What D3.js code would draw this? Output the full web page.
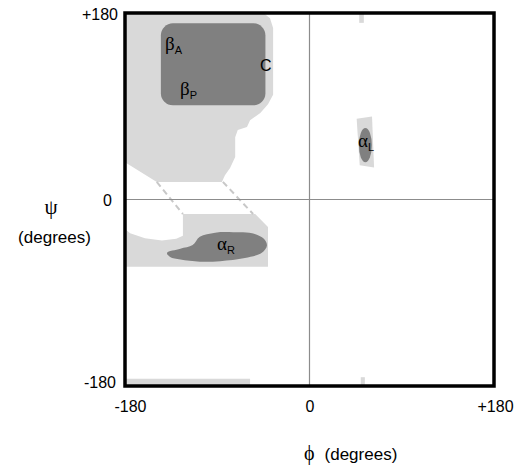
<!DOCTYPE html>
<html>
<head>
  <meta charset="utf-8">
  <title>Ramachandran regions</title>
  <style>
    body { margin: 0; background: #fff; }
    text { font-family: "Liberation Sans", Arial, sans-serif; fill: #000; }
    .greek { font-family: "Liberation Serif", "DejaVu Serif", serif; }
    .axis text { font-size: 16px; }
  </style>
  <script src="https://d3js.org/d3.v7.min.js"></script>
</head>
<body>
  <div id="chart"></div>
  <script>
    // regions in (phi, psi) degrees
    var betaAllowed = [[-180, 180], [-45, 180], [-38.5, 175], [-35.5, 165.5], [-35.5, 101], [-40.5, 92],
      [-48, 83.5], [-58, 76.5], [-61, 70], [-70, 67], [-72.5, 60], [-72.5, 41], [-77.5, 30.5],
      [-82.5, 23.5], [-85.5, 17], [-149, 17], [-180, 36]];
    var betaCore = [[-145, 170], [-43, 91]];
    var alphaRAllowed = [[-123.5, -14], [-53, -14], [-40.5, -26.5], [-40.5, -65], [-180, -65],
      [-180, -28.5], [-175, -32.5], [-160.5, -37.5], [-144, -39.5], [-130, -38], [-123.5, -35]];
    var alphaRCore = [[-139, -51.5], [-126, -47.5], [-114, -44], [-107, -36], [-92, -32], [-74.5, -31.5],
      [-56, -32.5], [-44.5, -38], [-41.5, -44.5], [-46.5, -51.5], [-63, -56.5], [-87, -59.5],
      [-107, -60], [-126, -58], [-136, -55.5]];
    var alphaLAllowed = [[46, 78], [61, 80], [63, 31], [49, 33]];
    var alphaLCore = { phi: 54.5, psi: 52.5, dphi: 6.3, dpsi: 16.5 };
    var wrapBoxes = [[[-180, -173], [-58, -180]], [[48.5, 180], [53, 170.5]], [[50, -171.5], [54, -180]]];
    var bridges = [[[-149, 17], [-123.5, -14]], [[-84.5, 17], [-55, -14]]];
    var tickValues = [-180, 0, 180];
    var tickLabels = ["-180", "0", "+180"];
    var regionLabels = [
      { g: "\u03b2", sub: "A", phi: -141, psi: 144 },
      { g: "\u03b2", sub: "P", phi: -126.3, psi: 101 },
      { g: "\u03b1", sub: "R", phi: -90.2, psi: -48.8 },
      { g: "\u03b1", sub: "L", phi: 47.3, psi: 50.7 }
    ];
    var cLabel = { text: "C", phi: -48.3, psi: 124 };

    var light = "#d9d9d9", dark = "#808080";
    var plotLeft = 125, plotRight = 494, plotTop = 13, plotBottom = 386;

    var svg = d3.select("#chart").append("svg")
      .attr("width", 517)
      .attr("height", 469);

    var x = d3.scaleLinear().domain([-180, 180]).range([plotLeft, plotRight]);
    var y = d3.scaleLinear().domain([-180, 180]).range([plotBottom, plotTop]);

    var line = d3.line()
      .x(function(d) { return x(d[0]); })
      .y(function(d) { return y(d[1]); });

    // light (allowed) regions
    svg.append("path").attr("d", line(betaAllowed) + "Z").attr("fill", light);
    svg.append("path").attr("d", line(alphaRAllowed) + "Z").attr("fill", light);
    svg.append("path").attr("d", line(alphaLAllowed) + "Z").attr("fill", light);
    svg.selectAll(".wrap").data(wrapBoxes).enter().append("rect")
      .attr("x", function(d) { return x(d[0][0]); })
      .attr("y", function(d) { return y(d[0][1]); })
      .attr("width", function(d) { return x(d[1][0]) - x(d[0][0]); })
      .attr("height", function(d) { return y(d[1][1]) - y(d[0][1]); })
      .attr("fill", light);

    // dashed bridges
    svg.selectAll(".bridge").data(bridges).enter().append("path")
      .attr("d", line)
      .attr("fill", "none")
      .attr("stroke", "#c8c8c8")
      .attr("stroke-width", 2)
      .attr("stroke-dasharray", "6,4");

    // core regions
    svg.append("rect")
      .attr("x", x(betaCore[0][0]))
      .attr("y", y(betaCore[0][1]))
      .attr("width", x(betaCore[1][0]) - x(betaCore[0][0]))
      .attr("height", y(betaCore[1][1]) - y(betaCore[0][1]))
      .attr("rx", 12)
      .attr("fill", dark);

    svg.append("path")
      .attr("d", d3.line().x(function(d) { return x(d[0]); }).y(function(d) { return y(d[1]); })
        .curve(d3.curveCatmullRomClosed)(alphaRCore))
      .attr("fill", dark);

    svg.append("ellipse")
      .attr("cx", x(alphaLCore.phi))
      .attr("cy", y(alphaLCore.psi))
      .attr("rx", x(alphaLCore.dphi) - x(0))
      .attr("ry", y(0) - y(alphaLCore.dpsi))
      .attr("fill", dark);

    // zero lines
    svg.append("line")
      .attr("x1", x(0)).attr("x2", x(0)).attr("y1", y(-180)).attr("y2", y(180))
      .attr("stroke", "#8c8c8c").attr("stroke-width", 1.2);
    svg.append("line")
      .attr("x1", x(-180)).attr("x2", x(180)).attr("y1", y(0)).attr("y2", y(0))
      .attr("stroke", "#8c8c8c").attr("stroke-width", 1.2);

    // frame
    svg.append("rect")
      .attr("x", plotLeft).attr("y", plotTop)
      .attr("width", plotRight - plotLeft).attr("height", plotBottom - plotTop)
      .attr("fill", "none").attr("stroke", "#000").attr("stroke-width", 3.5);

    // axes
    var xAxis = d3.axisBottom(x).tickValues(tickValues).tickSize(0).tickPadding(15)
      .tickFormat(function(d, i) { return tickLabels[i]; });
    var gx = svg.append("g").attr("class", "axis")
      .attr("transform", "translate(0," + plotBottom + ")")
      .call(xAxis);
    gx.select(".domain").remove();
    gx.selectAll("text").attr("dx", function(d) { return d === -180 ? 5 : d === 180 ? 1 : 0; });

    var yAxis = d3.axisLeft(y).tickValues(tickValues).tickSize(0).tickPadding(9)
      .tickFormat(function(d, i) { return tickLabels[i]; });
    var gy = svg.append("g").attr("class", "axis")
      .attr("transform", "translate(" + plotLeft + ",0)")
      .call(yAxis);
    gy.select(".domain").remove();
    gy.selectAll("text").attr("dx", function(d) { return d === 0 ? -4 : d === 180 ? 2 : 0; })
      .attr("dy", function(d) { return d === -180 ? "0.1em" : "0.4em"; });

    // axis titles
    svg.append("text").attr("class", "greek")
      .attr("x", 51).attr("y", 214)
      .attr("text-anchor", "middle").attr("font-size", 21)
      .text("\u03c8");
    svg.append("text")
      .attr("x", 54.5).attr("y", 243)
      .attr("text-anchor", "middle").attr("font-size", 17)
      .text("(degrees)");
    var xt = svg.append("text").attr("x", 304).attr("y", 460).attr("font-size", 17);
    xt.append("tspan").attr("class", "greek").attr("font-size", 20).text("\u03d5");
    xt.append("tspan").attr("dx", 10).text("(degrees)");

    // region labels
    regionLabels.forEach(function(l) {
      var t = svg.append("text").attr("x", x(l.phi)).attr("y", y(l.psi));
      t.append("tspan").attr("class", "greek").attr("font-size", 19).text(l.g);
      t.append("tspan").attr("font-size", 11).attr("dy", 4).text(l.sub);
    });
    svg.append("text")
      .attr("x", x(cLabel.phi)).attr("y", y(cLabel.psi))
      .attr("font-size", 16)
      .text(cLabel.text);
  </script>
</body>
</html>
